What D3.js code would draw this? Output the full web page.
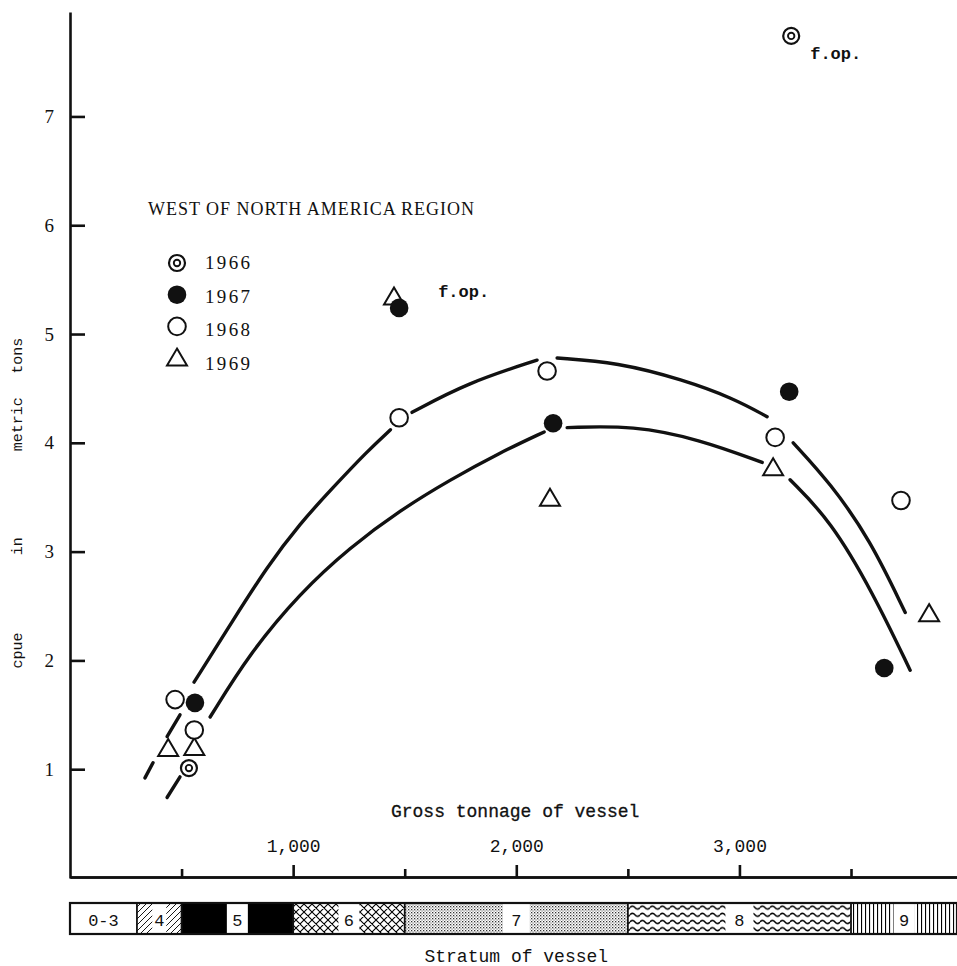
<!DOCTYPE html>
<html>
<head>
<meta charset="utf-8">
<script src="https://cdn.jsdelivr.net/npm/d3@7"></script>
<style>
  html, body { margin: 0; padding: 0; background: #fff; }
  svg { display: block; }
  .mono { font-family: "Liberation Mono", "DejaVu Sans Mono", monospace; }
  .serif { font-family: "Liberation Serif", "DejaVu Serif", serif; }
</style>
</head>
<body>
<svg id="chart" width="957" height="966"></svg>
<script>
// ---- data -------------------------------------------------------------
const years = ["1966", "1967", "1968", "1969"];

// [gross tonnage, cpue in metric tons]
const cpue1966 = [[533, 1.01], [3232, 7.74]];
const cpue1967 = [[560, 1.61], [1475, 5.24], [2165, 4.18], [3223, 4.47], [3649, 1.93]];
const cpue1968 = [[471, 1.64], [557, 1.36], [1475, 4.23], [2138, 4.66], [3160, 4.05], [3724, 3.47]];
const cpue1969 = [[440, 1.19], [557, 1.20], [1452, 5.34], [2151, 3.49], [3151, 3.77], [3850, 2.43]];

// points fished by foreign operations
const foreignOps = [["1967", 1475], ["1966", 3232]];

// hand-fitted trend curves, traced piece by piece (broken around markers)
const upperCurveDashes = [
  [[336, 0.92], [372, 1.06]],
  [[435, 1.30], [493, 1.50]]
];
const upperCurveRuns = [
  [[556, 1.80], [731, 2.37], [883, 2.86], [1031, 3.26], [1179, 3.59], [1331, 3.92], [1436, 4.12]],
  [[1533, 4.28], [1779, 4.55], [2093, 4.76]],
  [[2183, 4.78], [2452, 4.74], [2748, 4.58], [2972, 4.41], [3124, 4.24]],
  [[3241, 4.00], [3407, 3.63], [3586, 3.11], [3743, 2.44]]
];
const lowerCurveDashes = [
  [[435, 0.74], [493, 0.93]]
];
const lowerCurveRuns = [
  [[628, 1.48], [807, 2.07], [1031, 2.62], [1255, 3.04], [1479, 3.38], [1703, 3.66], [1927, 3.91], [2125, 4.10]],
  [[2228, 4.14], [2524, 4.16], [2824, 4.03], [3102, 3.82]],
  [[3227, 3.66], [3407, 3.29], [3599, 2.62], [3765, 1.91]]
];

const cpueTicks = [1, 2, 3, 4, 5, 6, 7];
const tonnageMajorTicks = [1000, 2000, 3000];
const tonnageMinorTicks = [500, 1500, 2500, 3500];

const strataNames = ["0-3", "4", "5", "6", "7", "8", "9"];
const strataBounds = [0, 300, 500, 1000, 1500, 2500, 3500, 3975];

// ---- layout -----------------------------------------------------------
const svg = d3.select("#chart");
const x = d3.scaleLinear().domain([0, 3975]).range([70, 957]);
const y = d3.scaleLinear().domain([0, 7.96]).range([878, 12]);

// ---- patterns for the stratum bar ------------------------------------
const defs = svg.append("defs");

const hatch = defs.append("pattern").attr("id", "hatch")
  .attr("patternUnits", "userSpaceOnUse").attr("width", 6).attr("height", 6);
hatch.append("path").attr("d", "M-1,1 l2,-2 M0,6 l6,-6 M5,7 l2,-2")
  .attr("stroke", "#000").attr("stroke-width", 0.9);

const cross = defs.append("pattern").attr("id", "cross")
  .attr("patternUnits", "userSpaceOnUse").attr("width", 8).attr("height", 8);
cross.append("path").attr("d", "M-1,1 l2,-2 M0,8 l8,-8 M7,9 l2,-2 M-1,7 l2,2 M0,0 l8,8 M7,-1 l2,2")
  .attr("stroke", "#000").attr("stroke-width", 1.1);

const stipple = defs.append("pattern").attr("id", "stipple")
  .attr("patternUnits", "userSpaceOnUse").attr("width", 3).attr("height", 3);
stipple.append("rect").attr("x", 0).attr("y", 0).attr("width", 1.3).attr("height", 1.3).attr("fill", "#333");
stipple.append("rect").attr("x", 1.5).attr("y", 1.5).attr("width", 1.1).attr("height", 1.1).attr("fill", "#555");

const wave = defs.append("pattern").attr("id", "wave")
  .attr("patternUnits", "userSpaceOnUse").attr("width", 10).attr("height", 7.2)
  .attr("patternTransform", "translate(0,904)");
wave.append("path").attr("d", "M0,3.6 Q2.5,0.6 5,3.6 T10,3.6")
  .attr("fill", "none").attr("stroke", "#000").attr("stroke-width", 1.5);

const vlines = defs.append("pattern").attr("id", "vlines")
  .attr("patternUnits", "userSpaceOnUse").attr("width", 4).attr("height", 4);
vlines.append("rect").attr("x", 1).attr("y", 0).attr("width", 1.1).attr("height", 4).attr("fill", "#000");

const strataFills = ["#fff", "url(#hatch)", "#000", "url(#cross)", "url(#stipple)", "url(#wave)", "url(#vlines)"];
const strataBoxWidths = [0, 14, 21, 21, 27, 28, 21];

// ---- axes -------------------------------------------------------------
const yAxis = d3.axisLeft(y).tickValues(cpueTicks).tickSizeInner(-15).tickSizeOuter(0).tickPadding(16);
const gy = svg.append("g").attr("transform", "translate(70,0)").call(yAxis);
gy.selectAll("text").attr("class", "serif").style("font-size", "19px").attr("fill", "#111");

const xMajor = d3.axisTop(x).tickValues(tonnageMajorTicks).tickSizeInner(12).tickSizeOuter(0)
  .tickPadding(13).tickFormat(d3.format(","));
const gx = svg.append("g").attr("transform", "translate(0,877)").call(xMajor);
gx.selectAll("text").attr("class", "mono").style("font-size", "18px").attr("fill", "#111");

const xMinor = d3.axisTop(x).tickValues(tonnageMinorTicks).tickSizeInner(8).tickSizeOuter(0).tickFormat("");
svg.append("g").attr("transform", "translate(0,877)").call(xMinor);

svg.selectAll(".domain, .tick line").attr("stroke", "#111").attr("stroke-width", 2.6);
svg.selectAll(".tick text").attr("font-family", null);

// axis titles
svg.append("text").attr("class", "mono")
  .attr("x", x(1995)).attr("y", 817).attr("text-anchor", "middle")
  .style("font-size", "18px").attr("fill", "#111").attr("stroke", "#111").attr("stroke-width", 0.3)
  .text("Gross tonnage of vessel");

const yLabelWords = [["cpue", 2.09], ["in", 3.05], ["metric", 4.17], ["tons", 4.8]];
yLabelWords.forEach(([w, v]) => {
  svg.append("text").attr("class", "mono")
    .attr("transform", `translate(22,${y(v)}) rotate(-90)`)
    .attr("text-anchor", "middle").style("font-size", "15px").attr("fill", "#111")
    .text(w);
});

// ---- stratum bar ------------------------------------------------------
const barTop = 903, barH = 31;
const strata = svg.append("g");
strataNames.forEach((name, i) => {
  const x0 = x(strataBounds[i]), x1 = x(strataBounds[i + 1]);
  strata.append("rect").attr("x", x0).attr("y", barTop).attr("width", x1 - x0).attr("height", barH)
    .attr("fill", strataFills[i]);
  const cx = (x0 + x1) / 2;
  if (strataBoxWidths[i] > 0) {
    strata.append("rect").attr("x", cx - strataBoxWidths[i] / 2).attr("y", barTop)
      .attr("width", strataBoxWidths[i]).attr("height", barH).attr("fill", "#fff");
  }
  strata.append("text").attr("class", "mono").attr("x", cx).attr("y", barTop + 23)
    .attr("text-anchor", "middle").style("font-size", "17px").attr("fill", "#111").text(name);
  if (i > 0) {
    strata.append("line").attr("x1", x0).attr("x2", x0).attr("y1", barTop).attr("y2", barTop + barH)
      .attr("stroke", "#111").attr("stroke-width", 1.8);
  }
});
strata.append("rect").attr("x", x(0)).attr("y", barTop).attr("width", x(3975) - x(0)).attr("height", barH)
  .attr("fill", "none").attr("stroke", "#111").attr("stroke-width", 2.2);

svg.append("text").attr("class", "mono")
  .attr("x", x(2000)).attr("y", 962).attr("text-anchor", "middle")
  .style("font-size", "18px").attr("fill", "#111").text("Stratum of vessel");

// ---- trend curves -----------------------------------------------------
const line = d3.line().x(d => x(d[0])).y(d => y(d[1])).curve(d3.curveBasis);
const curves = svg.append("g").attr("fill", "none").attr("stroke", "#111")
  .attr("stroke-width", 3.4).attr("stroke-linecap", "round");
[...upperCurveDashes, ...upperCurveRuns, ...lowerCurveDashes, ...lowerCurveRuns].forEach(run => {
  curves.append("path").attr("d", line(run));
});

// ---- markers ----------------------------------------------------------
function drawMarker(g, year, cx, cy) {
  if (year === "1966") {
    g.append("circle").attr("cx", cx).attr("cy", cy).attr("r", 8).attr("fill", "#fff")
      .attr("stroke", "#111").attr("stroke-width", 2.2);
    g.append("circle").attr("cx", cx).attr("cy", cy).attr("r", 3.2).attr("fill", "none")
      .attr("stroke", "#111").attr("stroke-width", 1.9);
  } else if (year === "1967") {
    g.append("circle").attr("cx", cx).attr("cy", cy).attr("r", 9.3).attr("fill", "#111");
  } else if (year === "1968") {
    g.append("circle").attr("cx", cx).attr("cy", cy).attr("r", 8.8).attr("fill", "#fff")
      .attr("stroke", "#111").attr("stroke-width", 2);
  } else {
    const s = 10;
    g.append("path")
      .attr("d", `M${cx},${cy - s * 0.95} L${cx + s},${cy + s * 0.75} L${cx - s},${cy + s * 0.75} Z`)
      .attr("fill", "#fff").attr("stroke", "#111").attr("stroke-width", 2).attr("stroke-linejoin", "miter");
  }
}

const seriesByYear = { "1966": cpue1966, "1967": cpue1967, "1968": cpue1968, "1969": cpue1969 };
const marks = svg.append("g");
// draw order: triangles first so overlapping circles sit on top of them
["1969", "1968", "1966", "1967"].forEach(yr => {
  seriesByYear[yr].forEach(([t, c]) => drawMarker(marks, yr, x(t), y(c)));
});

// foreign-operation notes
foreignOps.forEach(([yr, t]) => {
  const pt = seriesByYear[yr].find(d => d[0] === t);
  const dx = yr === "1966" ? 19 : 39;
  const dy = yr === "1966" ? 23 : -11;
  svg.append("text").attr("class", "mono")
    .attr("x", x(pt[0]) + dx).attr("y", y(pt[1]) + dy)
    .style("font-size", "17px").style("font-weight", "bold").attr("fill", "#111")
    .text("f.op.");
});

// ---- legend -----------------------------------------------------------
svg.append("text").attr("class", "serif").attr("x", 148).attr("y", 215)
  .attr("textLength", 326).attr("lengthAdjust", "spacing")
  .style("font-size", "18px").attr("fill", "#111").text("WEST OF NORTH AMERICA REGION");

const legend = svg.append("g");
years.forEach((yr, i) => {
  drawMarker(legend, yr, 177, 263 + i * 31.7);
  legend.append("text").attr("class", "serif").attr("x", 205).attr("y", 269 + i * 33.5)
    .attr("textLength", 45).attr("lengthAdjust", "spacing")
    .style("font-size", "19px").attr("fill", "#111").text(yr);
});
</script>
</body>
</html>
